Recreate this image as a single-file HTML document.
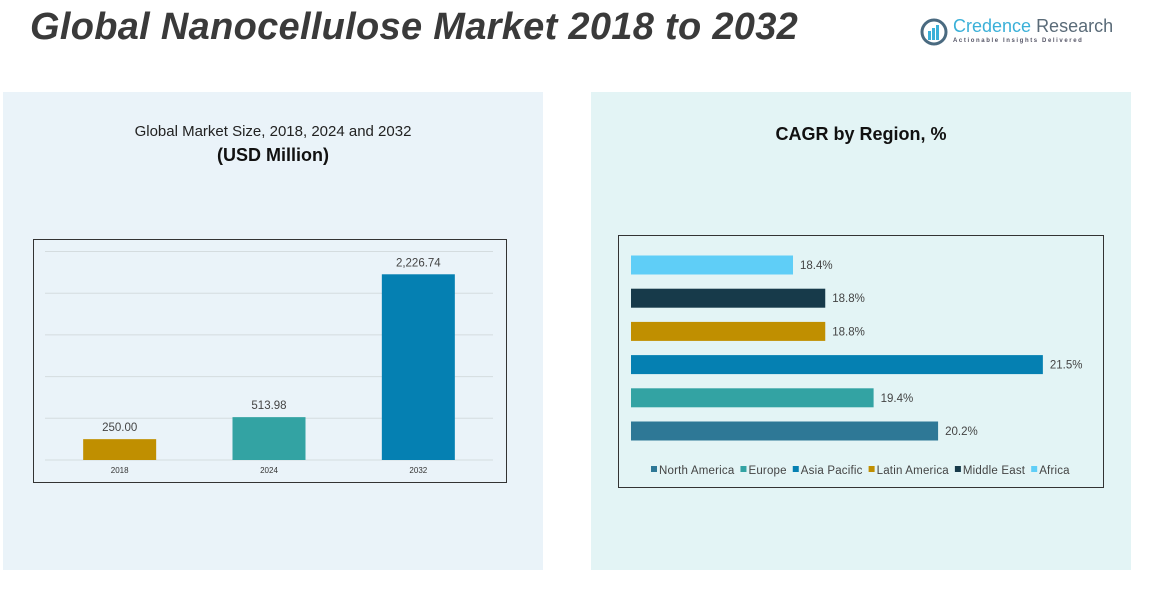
<!DOCTYPE html>
<html><head><meta charset="utf-8"><style>
body{margin:0;width:1152px;height:601px;background:#fff;position:relative;overflow:hidden;font-family:"Liberation Sans",sans-serif}
.abs{position:absolute}
</style></head><body>
<div class="abs" style="left:30px;top:6px;font-size:38px;font-weight:bold;font-style:italic;color:#3a3a3a;letter-spacing:0.3px;white-space:nowrap">Global Nanocellulose Market 2018 to 2032</div>
<div class="abs" style="left:920px;top:16px;width:190px;height:32px">
<svg width="28" height="28" class="abs" style="left:0;top:2px"><circle cx="14" cy="14" r="12" fill="none" stroke="#4a6a80" stroke-width="3"/><rect x="8" y="13" width="3" height="9" fill="#3ab0d8"/><rect x="12" y="10" width="3" height="12" fill="#3ab0d8"/><rect x="16" y="7" width="3" height="15" fill="#3ab0d8"/></svg>
<div class="abs" style="left:33px;top:0;font-size:18px;white-space:nowrap"><span style="color:#3ab0d8">Credence</span> <span style="color:#5a6b78">Research</span></div>
<div class="abs" style="left:33px;top:22px;font-size:6px;letter-spacing:1.6px;color:#556;white-space:nowrap;font-weight:bold">Actionable Insights Delivered</div>
</div>
<div class="abs" style="left:3px;top:92px;width:540px;height:478px;background:#eaf3f9"></div>
<div class="abs" style="left:591px;top:92px;width:540px;height:478px;background:#e3f4f5"></div>
<div class="abs" style="left:3px;width:540px;top:123px;text-align:center;font-size:15px;color:#222">Global Market Size, 2018, 2024 and 2032</div>
<div class="abs" style="left:3px;width:540px;top:145px;text-align:center;font-size:18px;font-weight:bold;color:#111">(USD Million)</div>
<div class="abs" style="left:591px;width:540px;top:124px;text-align:center;font-size:18px;font-weight:bold;color:#111">CAGR by Region, %</div>
<svg class="abs" style="left:0;top:0" width="1152" height="601" id="svg">
<rect x="33.5" y="239.5" width="473" height="243" fill="none" stroke="#333"/>
<rect x="618.5" y="235.5" width="485" height="252" fill="none" stroke="#333"/>
<g id="left"></g><g id="right"></g>
</svg>
<script>
const years=["2018","2024","2032"];
const sizes=[250.00,513.98,2226.74];
const sizeLabels=["250.00","513.98","2,226.74"];
const yTicks=[0,500,1000,1500,2000,2500];
const barColors=["#c08f00","#33a3a3","#0580b2"];
const regions=["Africa","Middle East","Latin America","Asia Pacific","Europe","North America"];
const cagr=[18.4,18.8,18.8,21.5,19.4,20.2];
const cagrLabels=["18.4%","18.8%","18.8%","21.5%","19.4%","20.2%"];
const regionColors=["#5fcef7","#173a4a","#c08f00","#0580b2","#33a3a3","#2e7896"];
const legendOrder=["North America","Europe","Asia Pacific","Latin America","Middle East","Africa"];
const NS="http://www.w3.org/2000/svg";
function mk(t,a,p,txt){const e=document.createElementNS(NS,t);for(const k in a)e.setAttribute(k,a[k]);if(txt!==undefined)e.textContent=txt;p.appendChild(e);return e;}
const L=document.getElementById('left'),R=document.getElementById('right');
const x0=45,x1=493,yb=460,yt=251.5;
const y=v=>yb-(v/2500)*(yb-yt);
const cw=(x1-x0)/years.length;
yTicks.forEach(t=>{const g=mk('line',{x1:x0,x2:x1,y1:y(t),y2:y(t),stroke:'#d4dcdf','stroke-width':1},L);

});
years.forEach((yr,i)=>{const cx=x0+cw*(i+0.5);
const b=mk('rect',{x:cx-36.5,y:y(sizes[i]),width:73,height:yb-y(sizes[i]),fill:barColors[i]},L);


const l=mk('text',{x:cx,y:y(sizes[i])-8,'text-anchor':'middle','font-size':11.5,fill:'#444'},L,sizeLabels[i]);


const t=mk('text',{x:cx,y:473,'text-anchor':'middle','font-size':8,fill:'#333'},L,yr);

});
const rx0=631,axMin=16.39,scale=80.6;
const xr=v=>rx0+(v-axMin)*scale;
regions.forEach((r,i)=>{const yc=265+i*33.2;
const b=mk('rect',{x:rx0,y:yc-9.5,width:xr(cagr[i])-rx0,height:19,fill:regionColors[i]},R);


const l=mk('text',{x:xr(cagr[i])+7,y:yc+4,'font-size':11.5,fill:'#444'},R,cagrLabels[i]);

});
let lx=651;
legendOrder.forEach(n=>{const c=regionColors[regions.indexOf(n)];
const s=mk('rect',{x:lx,y:466,width:6,height:6,fill:c},R);


const t=mk('text',{x:lx+8,y:474,'font-size':11.5,fill:'#444','letter-spacing':0.2},R,n);


lx+=8+t.getComputedTextLength()+6;});
</script>
</body></html>
